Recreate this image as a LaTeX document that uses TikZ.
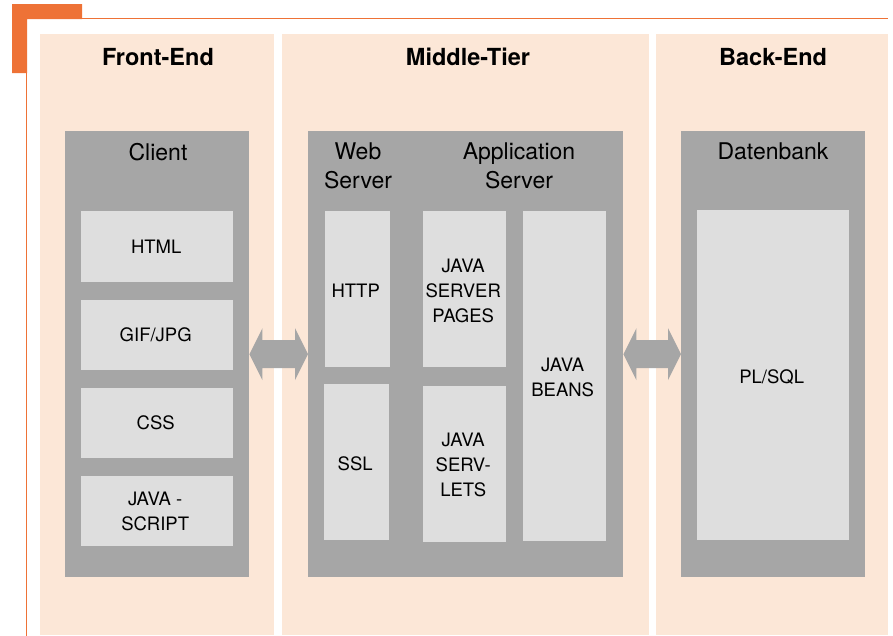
\documentclass[tikz,border=0pt]{standalone}
\usepackage{fontspec}
\setmainfont{TeX Gyre Heros}
\usetikzlibrary{calc}
\definecolor{orangeA}{HTML}{EE7236}
\definecolor{peach}{HTML}{FCE7D7}
\definecolor{grayA}{HTML}{A6A6A6}
\definecolor{grayL}{HTML}{DEDEDE}
\tikzset{
  colbox/.style={anchor=north west, inner sep=0pt, fill=peach, draw=none},
  graybox/.style={anchor=north west, inner sep=0pt, fill=grayA, draw=none},
  lightbox/.style={anchor=north west, inner sep=0pt, fill=grayL, draw=none},
  itemtext/.style={inner sep=0pt, align=center, font=\fontsize{18.5}{25}\selectfont},
  heading/.style={inner sep=0pt, font=\fontsize{23.5}{28}\selectfont\bfseries},
  title/.style={inner sep=0pt, align=center, font=\fontsize{23}{29}\selectfont},
  bigarrow/.style={fill=grayA, draw=none},
}
\begin{document}
\begin{tikzpicture}[x=1pt,y=-1pt]
\useasboundingbox (0,0) rectangle (893,635);
% frame
\draw[orangeA, line width=1.5pt] (26.5,640) -- (26.5,18.5) -- (888,18.5);
\fill[orangeA] (12,4) -- (82,4) -- (82,19) -- (27,19) -- (27,73) -- (12,73) -- cycle;
% columns
\node[colbox, minimum width=234, minimum height=601] (colF) at (40,34) {};
\node[colbox, minimum width=367, minimum height=601] (colM) at (282,34) {};
\node[colbox, minimum width=232, minimum height=601] (colB) at (656,34) {};
\node[heading] (hF) at (158,57) {Front-End};
\node[heading] (hM) at (468,57) {Middle-Tier};
\node[heading] (hB) at (773,57) {Back-End};
% gray containers
\node[graybox, minimum width=184, minimum height=446] (client) at (65,131) {};
\node[graybox, minimum width=315, minimum height=446] (mid) at (308,131) {};
\node[graybox, minimum width=184, minimum height=446] (db) at (681,131) {};
\node[title] (tClient) at (158,152) {Client};
\node[title] (tWeb) at (358,166) {Web\\Server};
\node[title] (tApp) at (519,166) {Application\\Server};
\node[title] (tDb) at (773,151) {Datenbank};
% client items
\node[lightbox, minimum width=152, minimum height=71] (html) at (81,211) {};
\node[lightbox, minimum width=152, minimum height=70] (gif) at (81,300) {};
\node[lightbox, minimum width=152, minimum height=70] (css) at (81,388) {};
\node[lightbox, minimum width=152, minimum height=70] (js) at (81,476) {};
\node[itemtext] (thtml) at ($(html.center)+(-1,0)$) {HTML};
\node[itemtext] (tgif) at ($(gif.center)+(-1.5,0)$) {GIF/JPG};
\node[itemtext] (tcss) at ($(css.center)+(-1.5,0)$) {CSS};
\node[itemtext] (tjs) at ($(js.center)+(-2,0)$) {JAVA -\\SCRIPT};
% middle items
\node[lightbox, minimum width=65, minimum height=156] (http) at (325,211) {};
\node[lightbox, minimum width=65, minimum height=156] (ssl) at (324,384) {};
\node[lightbox, minimum width=83, minimum height=156] (jsp) at (423,211) {};
\node[lightbox, minimum width=83, minimum height=156] (serv) at (423,386) {};
\node[lightbox, minimum width=83, minimum height=330] (beans) at (523,211) {};
\node[itemtext] (thttp) at ($(http.center)+(-2,2)$) {HTTP};
\node[itemtext] (tssl) at ($(ssl.center)+(-1.5,2)$) {SSL};
\node[itemtext] (tjsp) at ($(jsp.center)+(-1.5,2)$) {JAVA\\SERVER\\PAGES};
\node[itemtext] (tserv) at ($(serv.center)+(-1.5,1)$) {JAVA\\SERV-\\LETS};
\node[itemtext] (tbeans) at ($(beans.center)+(-2,1)$) {JAVA\\BEANS};
% database item
\node[lightbox, minimum width=152, minimum height=330] (plsql) at (697,210) {};
\node[itemtext] (tplsql) at ($(plsql.center)+(-1.5,2)$) {PL/SQL};
% arrows
\fill[bigarrow] (client.east) -- ++(13,-26) -- ++(0,12) -- ($(mid.west)+(-13,-14)$) -- ++(0,-12)
  -- (mid.west) -- ++(-13,26) -- ++(0,-12) -- ($(client.east)+(13,14)$) -- ++(0,12) -- cycle;
\fill[bigarrow] (mid.east) -- ++(13,-26) -- ++(0,12) -- ($(db.west)+(-13,-14)$) -- ++(0,-12)
  -- (db.west) -- ++(-13,26) -- ++(0,-12) -- ($(mid.east)+(13,14)$) -- ++(0,12) -- cycle;
\end{tikzpicture}
\end{document}
